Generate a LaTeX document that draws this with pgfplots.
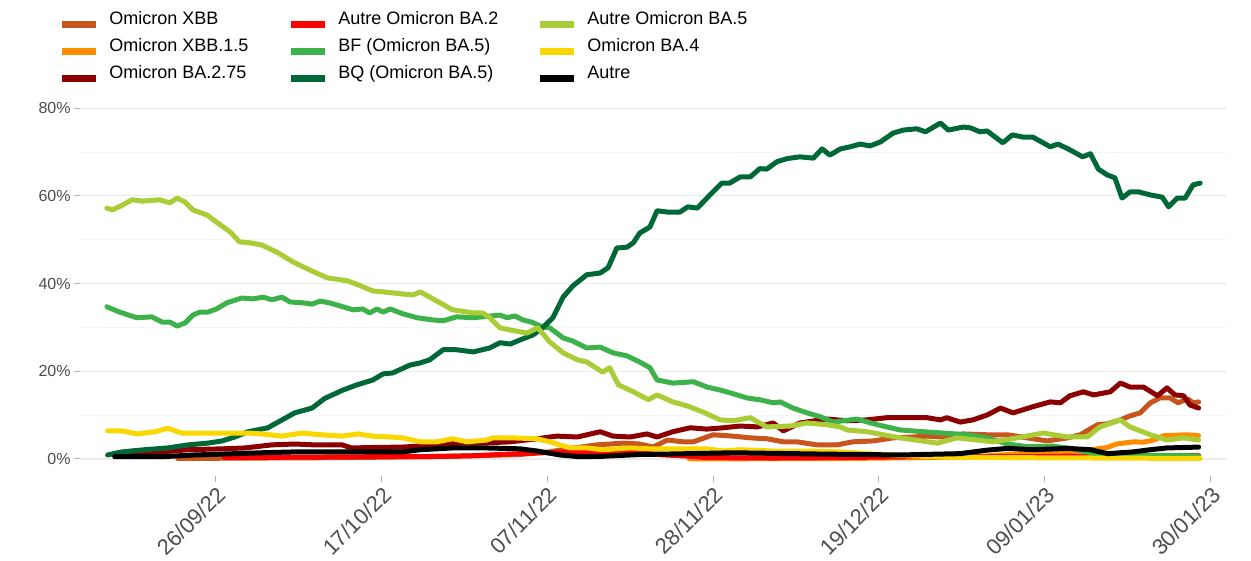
\documentclass[border=0pt]{standalone}
\usepackage{pgfplots}
\pgfplotsset{compat=1.18}
\usepackage{fontspec}
\setmainfont{Liberation Sans}
\definecolor{cXBB}{RGB}{200,85,30}
\definecolor{cXBBf}{RGB}{255,140,0}
\definecolor{cBAtwoS}{RGB}{139,0,0}
\definecolor{cBAtwo}{RGB}{255,0,0}
\definecolor{cBF}{RGB}{61,178,75}
\definecolor{cBQ}{RGB}{0,104,55}
\definecolor{cBAfive}{RGB}{170,205,55}
\definecolor{cBAfour}{RGB}{250,215,0}
\definecolor{gthirty}{RGB}{77,77,77}
\definecolor{gridmaj}{RGB}{235,235,235}
\definecolor{gridmin}{RGB}{245,245,245}
\begin{document}
\begin{tikzpicture}
\useasboundingbox (0,0) rectangle (625.5pt,-280.5pt);
\begin{axis}[
  at={(40pt,-237.85pt)}, anchor=south west,
  scale only axis, width=573.5pt, height=184.65pt,
  xmin=-17.2, xmax=128.1, ymin=-3.83, ymax=80.4,
  axis line style={draw=none},
  xtick={0,21,42,63,84,105,126},
  xticklabels={26/09/22,17/10/22,07/11/22,28/11/22,19/12/22,09/01/23,30/01/23},
  ytick={0,20,40,60,80},
  minor ytick={10,30,50,70},
  yticklabel={\pgfmathprintnumber{\tick}\%},
  /pgf/number format/assume math mode=true,
  ymajorgrids, yminorgrids, xmajorgrids=false,
  major grid style={gridmaj, line width=0.6pt},
  minor grid style={gridmin, line width=0.4pt},
  tick align=outside, major tick length=3pt, minor tick length=0pt,
  tick style={gray!60, line width=0.5pt},
  xtick pos=bottom, ytick pos=left,
  xticklabel style={rotate=45, anchor=north east, font=\fontsize{11}{12}\selectfont, text=gthirty, inner sep=1pt},
  yticklabel style={font=\fontsize{8}{9}\selectfont, text=gthirty, inner sep=1.5pt},
  legend columns=3,
  legend cell align=left,
  legend style={at={(axis description cs:-0.0192,1.2575)}, anchor=north west, draw=none, fill=none,
    font=\fontsize{9}{10}\selectfont, inner sep=0pt, row sep=5pt,
    /tikz/every odd column/.append style={column sep=5pt},
    nodes={inner sep=0pt, text height=6.6pt, text depth=1.9pt, anchor=base west}},
  legend image code/.code={\draw[line width=3.5pt, line cap=butt] (0pt,0pt) -- (17pt,0pt);},
  every axis plot/.append style={line width=2.5pt, line join=round, line cap=round},
]
% Omicron XBB
\addplot[cXBB, forget plot] coordinates {(-4.8,0.1)(5.6,0.2)(17.0,0.3)(29.7,0.6)(38.5,1.0)(42.3,1.6)(44.5,2.3)(48.3,3.2)(51.6,3.6)(53.7,3.4)(55.4,2.7)(57.2,4.3)(59.2,3.9)(60.5,3.9)(63.0,5.5)(65.5,5.2)(67.7,4.8)(69.8,4.6)(71.9,3.9)(73.6,3.9)(76.2,3.2)(78.7,3.2)(80.7,3.9)(83.3,4.1)(85.8,4.8)(88.3,5.0)(90.1,5.2)(91.8,5.0)(94.7,5.7)(97.7,5.5)(100.3,5.5)(102.8,4.8)(105.3,4.1)(107.9,4.8)(109.5,5.5)(111.7,7.8)(112.9,8.0)(114.6,8.9)(115.8,9.8)(117.1,10.5)(118.4,12.8)(119.6,13.9)(120.9,13.9)(121.9,12.8)(123.1,13.7)(123.8,12.8)(124.5,13.0)};
% Omicron XBB.1.5
\addplot[cXBBf, forget plot] coordinates {(60,0.0)(80,0.1)(90,0.3)(97,0.6)(100.3,1.0)(105.3,1.4)(109.5,1.8)(111.7,2.3)(112.9,2.6)(114.1,3.4)(116.3,3.9)(117.5,3.8)(118.8,4.3)(120.1,5.3)(121.6,5.4)(123.1,5.5)(124.5,5.3)};
% Omicron BA.2.75
\addplot[cBAtwoS, forget plot] coordinates {(-12.8,1.1)(-10.3,1.4)(-6.8,1.6)(-3.5,2.1)(0.8,2.3)(3.7,2.5)(7.1,3.2)(10.0,3.4)(12.5,3.2)(16.0,3.2)(17.2,2.5)(19.8,2.6)(23.7,2.7)(28.0,3.2)(30.9,3.6)(33.5,3.6)(37.3,3.9)(40.7,4.6)(43.2,5.2)(45.8,5.0)(48.7,6.2)(50.3,5.2)(52.5,5.0)(54.6,5.7)(55.9,5.0)(57.9,6.2)(60.1,7.1)(62.2,6.8)(64.3,7.1)(66.4,7.5)(68.6,7.3)(70.6,8.2)(71.9,6.4)(74.0,8.2)(77.4,9.1)(80.0,8.7)(82.5,8.9)(85.0,9.4)(87.6,9.4)(90.1,9.4)(91.8,8.9)(92.6,9.4)(94.3,8.4)(95.9,8.9)(97.7,10.0)(99.4,11.6)(101.0,10.5)(103.5,11.9)(105.7,13.0)(107.0,12.8)(108.2,14.4)(109.9,15.3)(111.2,14.6)(113.3,15.3)(114.6,17.3)(115.8,16.4)(117.5,16.4)(119.3,14.4)(120.5,16.2)(121.5,14.6)(122.6,14.4)(123.4,12.3)(124.5,11.6)};
% Autre Omicron BA.2
\addplot[cBAtwo, forget plot] coordinates {(1.1,0.3)(10.6,0.4)(19.5,0.5)(25.9,0.5)(32.2,0.7)(38.5,1.2)(42.7,1.5)(49.0,1.6)(53.7,1.6)(55.9,1.0)(60.1,0.6)(62.2,0.3)(70.6,0.2)(79.1,0.3)(87.6,0.5)(101.9,0.5)(112.0,0.7)(124.5,0.8)};
% BF
\addplot[cBF, forget plot] coordinates {(-13.8,34.7)(-12.2,33.5)(-10.0,32.2)(-8.1,32.4)(-6.8,31.2)(-5.8,31.2)(-4.9,30.3)(-3.9,31.0)(-2.9,32.8)(-2.0,33.5)(-1.0,33.5)(0.1,34.2)(1.4,35.6)(3.3,36.7)(4.7,36.5)(6.0,36.9)(7.1,36.3)(8.4,36.9)(9.4,35.8)(11.0,35.6)(12.2,35.3)(13.2,36.0)(14.4,35.6)(16.1,34.7)(17.4,34.0)(18.6,34.2)(19.5,33.3)(20.4,34.2)(21.2,33.5)(22.1,34.2)(23.7,33.1)(25.5,32.2)(27.5,31.7)(28.8,31.5)(30.5,32.4)(32.6,32.2)(33.8,32.4)(36.0,32.8)(36.9,32.2)(37.9,32.6)(38.9,31.7)(40.0,31.2)(41.4,30.1)(42.3,29.9)(44.0,27.6)(45.2,26.9)(47.0,25.3)(48.7,25.5)(50.3,24.2)(52.1,23.5)(53.7,22.1)(55.0,20.8)(55.9,18.0)(57.9,17.3)(60.5,17.6)(62.2,16.4)(63.9,15.7)(65.1,15.1)(67.3,13.9)(68.9,13.5)(70.6,12.8)(71.5,13.0)(73.1,11.6)(74.9,10.5)(76.6,9.6)(78.2,8.4)(81.2,9.1)(83.8,7.8)(86.7,6.6)(89.6,6.2)(92.1,5.9)(95.2,5.5)(97.7,4.8)(100.3,3.4)(102.8,2.8)(106.1,2.9)(108.6,2.3)(110.8,1.4)(112.0,1.0)(115.8,0.8)(119.6,0.8)(124.5,0.7)};
% BQ
\addplot[cBQ, forget plot] coordinates {(-13.7,0.9)(-11.9,1.6)(-9.0,2.1)(-6.1,2.5)(-3.5,3.2)(-1.0,3.6)(0.8,4.1)(2.4,5.0)(4.1,6.2)(6.6,7.1)(8.4,8.9)(10.0,10.5)(12.2,11.6)(13.8,13.8)(16.1,15.7)(17.9,16.9)(19.9,18.0)(21.2,19.4)(22.4,19.6)(24.6,21.4)(25.9,21.9)(27.1,22.6)(28.8,24.9)(30.5,24.9)(32.6,24.4)(34.7,25.3)(36.0,26.5)(37.3,26.2)(38.5,27.1)(40.2,28.3)(41.4,29.9)(42.7,32.2)(44.0,36.9)(45.2,39.4)(47.0,42.0)(48.7,42.4)(49.7,43.6)(50.8,48.1)(52.1,48.3)(52.9,49.3)(53.7,51.5)(55.0,52.9)(55.9,56.6)(57.2,56.3)(58.8,56.3)(59.8,57.5)(61.0,57.2)(62.6,60.2)(64.1,62.9)(65.1,62.9)(66.4,64.3)(67.7,64.3)(68.9,66.2)(69.8,66.1)(71.1,67.8)(72.4,68.5)(74.0,68.9)(75.7,68.6)(76.8,70.7)(77.8,69.3)(79.1,70.7)(80.4,71.2)(81.6,71.8)(82.9,71.4)(84.2,72.3)(85.8,74.3)(87.1,75.0)(88.8,75.3)(89.9,74.6)(91.8,76.6)(92.8,75.0)(94.7,75.7)(95.6,75.5)(96.8,74.6)(97.7,74.8)(99.7,72.1)(100.9,73.9)(102.3,73.4)(103.5,73.4)(105.7,71.2)(106.7,71.8)(108.2,70.5)(109.8,68.9)(110.8,69.6)(111.8,66.1)(112.9,64.8)(113.9,64.1)(114.8,59.5)(115.8,60.9)(116.9,60.9)(118.4,60.2)(119.9,59.7)(120.7,57.5)(121.8,59.5)(122.8,59.5)(123.8,62.5)(124.7,62.9)};
% Autre Omicron BA.5
\addplot[cBAfive, forget plot] coordinates {(-13.8,57.2)(-13.1,56.8)(-11.8,57.9)(-10.6,59.1)(-9.3,58.8)(-7.1,59.1)(-5.8,58.4)(-4.9,59.5)(-3.9,58.6)(-2.9,56.8)(-1.1,55.6)(0.1,54.0)(1.8,51.8)(3.0,49.5)(4.3,49.3)(5.8,48.8)(7.7,47.2)(9.8,44.9)(11.9,43.1)(14.1,41.3)(15.3,41.0)(16.7,40.6)(18.3,39.5)(19.9,38.3)(21.2,38.1)(23.7,37.6)(25.0,37.4)(25.9,38.1)(27.1,36.9)(28.4,35.6)(30.0,34.0)(32.6,33.3)(33.8,33.3)(34.7,32.2)(36.0,29.9)(37.3,29.4)(39.4,28.7)(40.8,29.9)(42.3,26.7)(44.0,24.2)(45.8,22.6)(47.0,22.1)(49.0,19.8)(49.9,20.8)(51.0,16.9)(52.9,15.3)(54.8,13.5)(55.9,14.6)(57.9,13.0)(59.7,12.1)(61.7,10.7)(63.9,8.9)(65.5,8.7)(67.7,9.4)(69.8,7.3)(72.8,7.5)(74.9,8.2)(77.4,7.8)(79.1,7.3)(80.0,6.6)(82.5,6.2)(86.7,4.8)(91.4,3.6)(93.9,4.8)(96.5,4.3)(98.5,3.9)(101.5,4.8)(104.8,5.9)(107.9,5.0)(110.4,5.0)(112.0,7.3)(114.6,8.9)(115.8,7.3)(118.4,5.5)(120.5,4.3)(122.6,4.8)(124.5,4.3)};
% Omicron BA.4
\addplot[cBAfour, forget plot] coordinates {(-13.7,6.4)(-11.9,6.4)(-9.9,5.7)(-7.7,6.2)(-6.1,7.0)(-4.3,5.9)(-1.4,5.9)(1.5,5.9)(4.1,5.9)(5.8,5.7)(8.4,5.2)(10.9,5.9)(13.4,5.5)(16.0,5.2)(18.0,5.7)(19.8,5.2)(22.1,5.0)(23.7,4.8)(25.9,3.9)(28.0,3.9)(30.0,4.6)(31.8,3.9)(34.3,4.3)(35.1,4.8)(37.6,4.8)(40.7,4.6)(42.3,3.9)(43.6,3.2)(44.9,2.5)(47.0,2.5)(49.0,2.1)(52.5,2.5)(55.0,2.3)(57.9,2.3)(62.2,2.3)(64.3,1.8)(66.4,2.1)(70.6,1.8)(74.9,1.8)(79.1,1.6)(83.3,1.1)(87.6,0.7)(93.0,0.4)(99.4,0.3)(112.0,0.2)(124.7,0.1)};
% Autre
\addplot[black, forget plot] coordinates {(-12.8,0.5)(-6.8,0.5)(-2.7,0.9)(0.8,1.1)(5.8,1.4)(10.0,1.6)(16.3,1.6)(20.2,1.6)(23.7,1.6)(25.9,2.1)(30.0,2.5)(34.3,2.5)(38.5,2.3)(40.7,1.8)(43.6,0.9)(46.1,0.5)(49.0,0.6)(53.7,1.0)(60.1,1.2)(65.5,1.4)(76.9,1.1)(86.7,0.9)(94.3,1.2)(97.7,2.0)(100.3,2.4)(103.5,2.1)(107.9,2.4)(110.8,2.1)(113.0,1.2)(116.2,1.6)(118.4,2.1)(120.5,2.5)(124.5,2.7)};
% legend, filled row by row so that columns read as in the reference
\addlegendimage{cXBB}\addlegendentry{\makebox[89pt][l]{Omicron XBB}}
\addlegendimage{cBAtwo}\addlegendentry{\makebox[99pt][l]{Autre Omicron BA.2}}
\addlegendimage{cBAfive}\addlegendentry{Autre Omicron BA.5}
\addlegendimage{cXBBf}\addlegendentry{Omicron XBB.1.5}
\addlegendimage{cBF}\addlegendentry{BF (Omicron BA.5)}
\addlegendimage{cBAfour}\addlegendentry{Omicron BA.4}
\addlegendimage{cBAtwoS}\addlegendentry{Omicron BA.2.75}
\addlegendimage{cBQ}\addlegendentry{BQ (Omicron BA.5)}
\addlegendimage{black}\addlegendentry{Autre}
\end{axis}
\end{tikzpicture}
\end{document}
